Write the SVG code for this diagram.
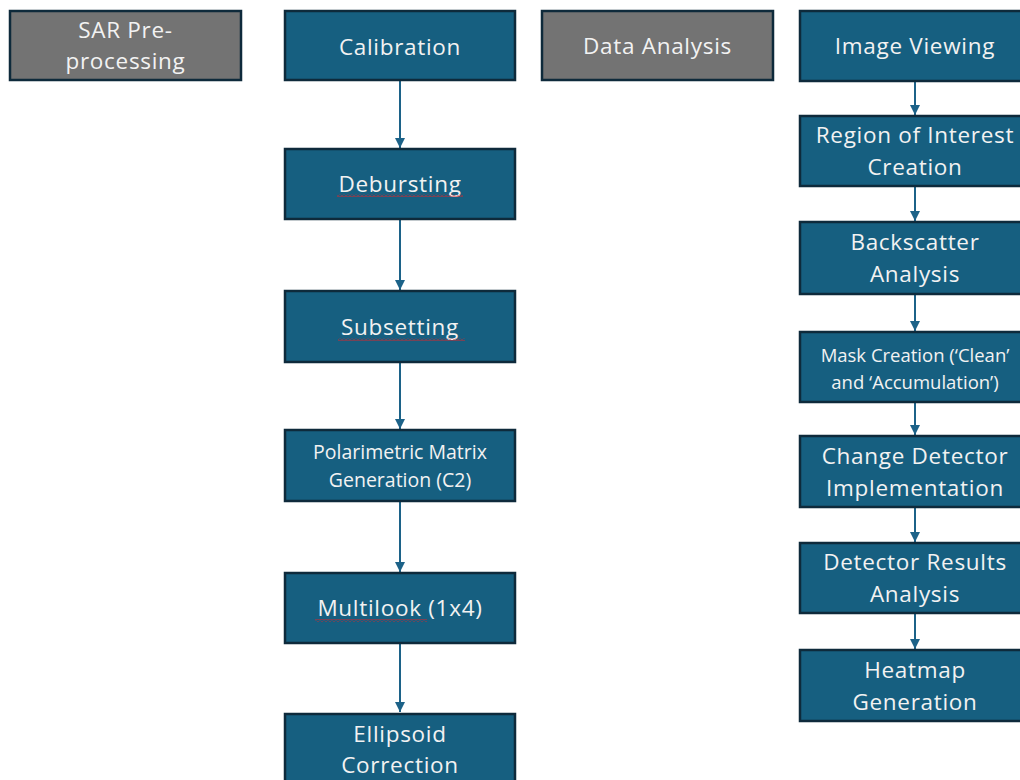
<svg xmlns="http://www.w3.org/2000/svg" width="1020" height="780" viewBox="0 0 1020 780">
<style>
.box{fill:#165f80;stroke:#0e2a3b;stroke-width:2.5}
.gray{fill:#737373;stroke:#0e2a3b;stroke-width:2.5}
.t{font-family:"Open Sans","Liberation Sans",sans-serif;font-size:22.5px;fill:#f2f2f2;text-anchor:middle;letter-spacing:0.7px;font-weight:500}
.s{font-size:19.5px;letter-spacing:0}
.m{font-size:18.5px;letter-spacing:0}
.conn{stroke:#1c6288;stroke-width:2;fill:none;marker-end:url(#ah)}
</style>
<defs>
<marker id="ah" viewBox="0 0 10 10" refX="10" refY="5" markerWidth="5" markerHeight="5" orient="auto" markerUnits="strokeWidth">
<path d="M0,0 L10,5 L0,10 z" fill="#1c6288"/>
</marker>
<pattern id="wave" x="0" y="0" width="4" height="3" patternUnits="userSpaceOnUse">
<path d="M0,2.5 L2,0.5 L4,2.5" stroke="#d9262b" stroke-width="1" fill="none"/>
</pattern>
</defs>
<rect width="1020" height="780" fill="#ffffff"/>
<g id="connectors">
<line class="conn" x1="400" y1="81" x2="400" y2="148"/>
<line class="conn" x1="400" y1="220" x2="400" y2="290"/>
<line class="conn" x1="400" y1="362" x2="400" y2="429"/>
<line class="conn" x1="400" y1="502" x2="400" y2="572"/>
<line class="conn" x1="400" y1="644" x2="400" y2="712"/>
<line class="conn" x1="915" y1="82" x2="915" y2="115"/>
<line class="conn" x1="915" y1="187" x2="915" y2="221"/>
<line class="conn" x1="915" y1="295" x2="915" y2="331"/>
<line class="conn" x1="915" y1="403" x2="915" y2="435"/>
<line class="conn" x1="915" y1="508" x2="915" y2="542"/>
<line class="conn" x1="915" y1="614" x2="915" y2="649"/>
</g>
<g id="sar">
<rect class="gray" x="10" y="11" width="231" height="69"/>
<text class="t" x="125.5" y="38">SAR Pre-</text>
<text class="t" x="125.5" y="69">processing</text>
</g>
<g id="calibration">
<rect class="box" x="285" y="11" width="230" height="69"/>
<text class="t" x="400" y="55">Calibration</text>
</g>
<g id="data-analysis">
<rect class="gray" x="542" y="11" width="231" height="69"/>
<text class="t" x="657.5" y="54">Data Analysis</text>
</g>
<g id="debursting">
<rect class="box" x="285" y="149" width="230" height="70"/>
<text class="t" x="400" y="192">Debursting</text>
<rect x="337" y="194" width="126" height="3" fill="url(#wave)"/>
</g>
<g id="subsetting">
<rect class="box" x="285" y="291" width="230" height="71"/>
<text class="t" x="400" y="335">Subsetting</text>
<rect x="338" y="338" width="127" height="3" fill="url(#wave)"/>
</g>
<g id="polarimetric">
<rect class="box" x="285" y="430" width="230" height="71"/>
<text class="t s" x="400" y="459">Polarimetric Matrix</text>
<text class="t s" x="400" y="487">Generation (C2)</text>
</g>
<g id="multilook">
<rect class="box" x="285" y="573" width="230" height="70"/>
<text class="t" x="400" y="616">Multilook (1x4)</text>
<rect x="315" y="619" width="112" height="3" fill="url(#wave)"/>
</g>
<g id="ellipsoid">
<rect class="box" x="285" y="714" width="230" height="80"/>
<text class="t" x="400" y="742">Ellipsoid</text>
<text class="t" x="400" y="773">Correction</text>
</g>
<g id="image-viewing">
<rect class="box" x="800" y="11" width="231" height="70"/>
<text class="t" x="915" y="54">Image Viewing</text>
</g>
<g id="roi">
<rect class="box" x="800" y="116" width="231" height="70"/>
<text class="t" x="915" y="143">Region of Interest</text>
<text class="t" x="915" y="175">Creation</text>
</g>
<g id="backscatter">
<rect class="box" x="800" y="222" width="231" height="72"/>
<text class="t" x="915" y="250">Backscatter</text>
<text class="t" x="915" y="282">Analysis</text>
</g>
<g id="mask">
<rect class="box" x="800" y="332" width="231" height="70"/>
<text class="t m" x="915" y="362">Mask Creation (‘Clean’</text>
<text class="t m" x="915" y="389">and ‘Accumulation’)</text>
</g>
<g id="change-detector">
<rect class="box" x="800" y="436" width="231" height="71"/>
<text class="t" x="915" y="464">Change Detector</text>
<text class="t" x="915" y="496">Implementation</text>
</g>
<g id="detector-results">
<rect class="box" x="800" y="543" width="231" height="70"/>
<text class="t" x="915" y="570">Detector Results</text>
<text class="t" x="915" y="602">Analysis</text>
</g>
<g id="heatmap">
<rect class="box" x="800" y="650" width="231" height="71"/>
<text class="t" x="915" y="678">Heatmap</text>
<text class="t" x="915" y="710">Generation</text>
</g>
</svg>
